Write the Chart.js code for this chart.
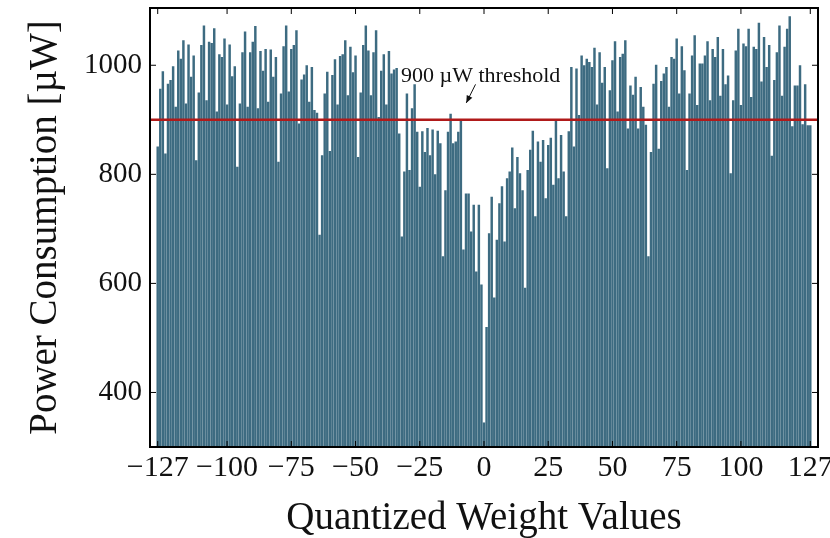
<!DOCTYPE html>
<html>
<head>
<meta charset="utf-8">
<script src="https://cdn.jsdelivr.net/npm/chart.js@4.4.1/dist/chart.umd.min.js"></script>
<style>
  body { margin: 0; background: #fff; }
  #wrap { width: 830px; height: 538px; }
</style>
</head>
<body>
<div id="wrap"><canvas id="powerchart"></canvas></div>
<script>
// quantized weights -127..127
var weights = [];
for (var w = -127; w <= 127; w++) weights.push(w);

// power per weight value [uW]
var power = [
  851, 957, 989, 838, 966, 973, 998, 924, 1027, 1012,
  1046, 930, 1038, 979, 1018, 826, 950, 1037, 1073, 936,
  1043, 1041, 1068, 915, 1020, 1015, 1049, 928, 1038, 980,
  998, 814, 930, 1024, 1062, 924, 1024, 1043, 1072, 921,
  1026, 990, 1030, 933, 1029, 979, 1015, 823, 948, 1035,
  1073, 952, 1030, 1037, 1064, 893, 974, 983, 1000, 933,
  997, 918, 913, 689, 835, 948, 988, 843, 982, 1011,
  928, 1017, 1020, 1046, 945, 1034, 987, 1018, 832, 950,
  1037, 1073, 1027, 945, 1024, 1064, 905, 990, 1020, 928,
  1026, 985, 992, 995, 875, 686, 805, 948, 808, 921,
  965, 878, 777, 879, 841, 885, 835, 882, 800, 880,
  857, 650, 771, 878, 911, 857, 860, 878, 900, 662,
  765, 765, 695, 744, 622, 744, 598, 345, 520, 692,
  759, 574, 680, 747, 778, 677, 793, 805, 849, 738,
  832, 802, 771, 592, 808, 845, 880, 723, 860, 823,
  863, 756, 854, 867, 781, 900, 793, 872, 805, 723,
  879, 997, 851, 994, 909, 1018, 1000, 1012, 1006, 997,
  1032, 928, 1024, 968, 997, 811, 954, 1009, 1044, 915,
  1015, 1021, 1046, 884, 963, 946, 979, 884, 960, 924,
  891, 650, 841, 966, 1001, 847, 971, 985, 997, 924,
  1015, 1012, 1049, 948, 1035, 991, 808, 948, 1018, 1055,
  927, 1003, 1003, 1018, 1044, 936, 1030, 1015, 1052, 944,
  1030, 965, 981, 802, 936, 1027, 1067, 927, 1040, 1035,
  1067, 942, 1034, 1030, 1078, 970, 1052, 997, 1037, 834,
  973, 1024, 1073, 944, 1034, 1067, 1090, 888, 963, 963,
  1000, 892, 965, 890, 890
];

var xTicks = [-127, -100, -75, -50, -25, 0, 25, 50, 75, 100, 127];
var yTicks = [400, 600, 800, 1000];
var threshold = 900;
var thresholdLabel = '900 \u00b5W threshold';

var serif = '"Liberation Serif", "DejaVu Serif", serif';

var barData = weights.map(function (w, i) { return { x: w, y: power[i] }; });
var lineData = [{ x: -130, y: threshold }, { x: 130, y: threshold }];

// frame, inward ticks and the threshold note
var framePlugin = {
  id: 'frame',
  afterDatasetsDraw: function (chart) {
    var ctx = chart.ctx, a = chart.chartArea;
    var xs = chart.scales.x, ys = chart.scales.y;
    ctx.save();
    ctx.strokeStyle = '#000';
    ctx.lineWidth = 1;
    ctx.beginPath();
    xTicks.forEach(function (v) {
      var px = xs.getPixelForValue(v);
      ctx.moveTo(px, a.top); ctx.lineTo(px, a.top + 6);
      ctx.moveTo(px, a.bottom); ctx.lineTo(px, a.bottom - 6);
    });
    yTicks.forEach(function (v) {
      var py = ys.getPixelForValue(v);
      ctx.moveTo(a.left, py); ctx.lineTo(a.left + 6, py);
      ctx.moveTo(a.right, py); ctx.lineTo(a.right - 6, py);
    });
    ctx.stroke();
    ctx.lineWidth = 2;
    ctx.strokeRect(a.left, a.top, a.right - a.left, a.bottom - a.top);

    // annotation
    ctx.fillStyle = '#111';
    ctx.font = '22px ' + serif;
    ctx.textBaseline = 'alphabetic';
    ctx.textAlign = 'left';
    ctx.fillText(thresholdLabel, xs.getPixelForValue(-32.3), ys.getPixelForValue(969));

    var x0 = xs.getPixelForValue(-3.3), y0 = ys.getPixelForValue(965);
    var x1 = xs.getPixelForValue(-6.9), y1 = ys.getPixelForValue(931);
    var ang = Math.atan2(y1 - y0, x1 - x0);
    ctx.lineWidth = 1;
    ctx.strokeStyle = '#111';
    ctx.beginPath();
    ctx.moveTo(x0, y0); ctx.lineTo(x1, y1);
    ctx.stroke();
    ctx.beginPath();
    ctx.moveTo(x1, y1);
    ctx.lineTo(x1 - 8 * Math.cos(ang - 0.4), y1 - 8 * Math.sin(ang - 0.4));
    ctx.lineTo(x1 - 8 * Math.cos(ang + 0.4), y1 - 8 * Math.sin(ang + 0.4));
    ctx.closePath();
    ctx.fill();
    ctx.restore();
  }
};

var config = {
  type: 'bar',
  data: {
    datasets: [{
      type: 'line',
      data: lineData,
      borderColor: '#b01a1a',
      borderWidth: 2.5,
      pointRadius: 0,
      order: 1
    }, {
      type: 'bar',
      data: barData,
      backgroundColor: '#3d6b81',
      borderWidth: 0,
      categoryPercentage: 1,
      barPercentage: 0.96,
      order: 2
    }]
  },
  options: {
    responsive: true,
    maintainAspectRatio: false,
    animation: false,
    layout: { padding: { left: 10, right: 12, top: 8, bottom: 0 } },
    plugins: { legend: { display: false }, tooltip: { enabled: false } },
    scales: {
      x: {
        type: 'linear',
        offset: false,
        min: -130,
        max: 130,
        grid: { display: false, drawTicks: false, offset: false },
        border: { display: false },
        afterBuildTicks: function (s) { s.ticks = xTicks.map(function (v) { return { value: v }; }); },
        afterFit: function (s) { s.height = 91; s.paddingLeft = 0; s.paddingRight = 0; },
        ticks: {
          padding: 3,
          maxRotation: 0,
          minRotation: 0,
          autoSkip: false,
          color: '#111',
          font: { family: serif, size: 30 },
          callback: function (v) { return v < 0 ? '\u2212' + Math.abs(v) : String(v); }
        },
        title: {
          display: true,
          text: 'Quantized Weight Values',
          color: '#111',
          font: { family: serif, size: 39, lineHeight: 1.0 },
          padding: { top: 0, bottom: 0 }
        }
      },
      y: {
        min: 300,
        max: 1105,
        grid: { display: false, drawTicks: false },
        border: { display: false },
        afterBuildTicks: function (s) { s.ticks = yTicks.map(function (v) { return { value: v }; }); },
        afterFit: function (s) { s.width = 140; s.paddingTop = 0; s.paddingBottom = 0; },
        ticks: {
          padding: 8,
          color: '#111',
          font: { family: serif, size: 29 },
          callback: function (v) { return String(v); }
        },
        title: {
          display: true,
          text: 'Power Consumption [\u00b5W]',
          color: '#111',
          font: { family: serif, size: 39 },
          padding: { top: 12, bottom: 0 }
        }
      }
    }
  },
  plugins: [framePlugin]
};

var powerchart = new Chart(document.getElementById('powerchart'), config);
</script>
</body>
</html>
